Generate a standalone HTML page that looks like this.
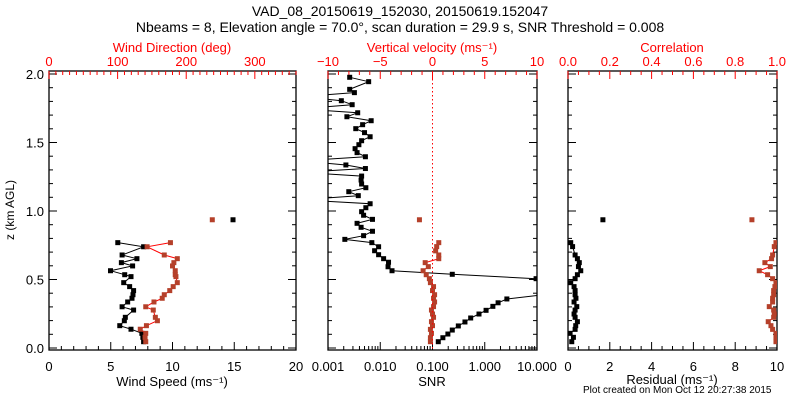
<!DOCTYPE html>
<html><head><meta charset="utf-8"><style>
body{margin:0;background:#fff;}
svg{display:block;font-family:"Liberation Sans",sans-serif;}
</style></head><body>
<svg id="chart" width="800" height="400" viewBox="0 0 800 400">
<text x="400" y="16" text-anchor="middle" font-size="14">VAD_08_20150619_152030, 20150619.152047</text>
<text x="400" y="32" text-anchor="middle" font-size="14">Nbeams = 8, Elevation angle = 70.0°, scan duration = 29.9 s, SNR Threshold = 0.008</text>
<text x="5" y="393" font-size="10" text-anchor="start" fill="#000" transform="translate(578,0)">Plot created on Mon Oct 12 20:27:38 2015</text>
</svg>
<script>
// ---- data ----
var windZ = [0.769,0.739,0.679,0.652,0.623,0.599,0.564,0.535,0.521,0.477,0.448,0.419,0.389,0.363,0.336,0.301,0.277,0.224,0.199,0.163,0.137,0.107,0.078,0.046];
var windSpeed = [5.57,7.66,5.92,7.12,5.86,6.77,4.98,6.13,6.64,6.05,6.53,6.85,6.80,6.72,6.37,5.92,6.85,6.18,6.10,5.73,6.64,7.52,7.60,7.66];
var windDir = [177,143,168,187,182,180,184,184,185,187,181,176,168,165,153,141,152,155,158,142,133,141,140,141];
var outlierZ = [0.936];
var outlierSpeed = [14.9];
var outlierDir = [238];
var outlierVel = [-1.25];
var outlierRes = [1.67];
var outlierCorr = [0.88];
var snrZ = [0.046,0.075,0.102,0.131,0.161,0.190,0.219,0.248,0.275,0.304,0.330,0.358,0.387,0.416,0.445,0.475,0.506,0.538,0.564,0.593,0.626,0.652,0.681,0.710,0.739,0.769,0.793,0.820,0.852,0.881,0.910,0.939,0.969,0.995,1.024,1.053,1.082,1.112,1.141,1.170,1.197,1.226,1.255,1.282,1.310,1.336,1.365,1.396,1.426,1.455,1.484,1.513,1.542,1.572,1.601,1.630,1.659,1.688,1.717,1.746,1.776,1.805,1.834,1.864,1.888,1.944,1.976];
var snrVal = [0.129,0.158,0.197,0.239,0.312,0.418,0.538,0.776,1.06,1.43,1.80,2.65,12,30,50,40,9.6,0.239,0.0168,0.0141,0.0144,0.0116,0.0093,0.0078,0.0093,0.0069,0.0021,0.0048,0.0071,0.0043,0.0036,0.0071,0.0048,0.0044,0.0053,0.0064,0.0003,0.0038,0.0025,0.0053,0.0044,0.0043,0.0044,0.0003,0.0052,0.0022,0.0003,0.0052,0.0036,0.0033,0.0039,0.0044,0.0064,0.0050,0.0034,0.0046,0.0067,0.0023,0.0037,0.0003,0.0029,0.0018,0.0003,0.0032,0.0026,0.0060,0.0026];
var velZ = [0.046,0.075,0.107,0.136,0.163,0.192,0.224,0.248,0.277,0.302,0.336,0.363,0.389,0.419,0.448,0.477,0.506,0.535,0.564,0.594,0.623,0.652,0.679,0.709,0.740,0.769];
var velVal = [-0.2,-0.2,-0.1,-0.2,0.0,-0.1,0.1,0.0,-0.1,0.1,0.2,0.1,0.2,0.0,0.1,-0.2,-0.3,-0.6,-0.9,-0.4,-0.7,0.6,0.6,0.3,0.4,0.6];
var resZ = [0.769,0.740,0.679,0.652,0.623,0.594,0.564,0.535,0.506,0.477,0.448,0.419,0.389,0.363,0.336,0.302,0.277,0.248,0.224,0.192,0.163,0.136,0.107,0.078,0.046];
var resVal = [0.13,0.22,0.34,0.45,0.54,0.50,0.61,0.45,0.34,0.13,0.29,0.34,0.34,0.38,0.29,0.42,0.34,0.29,0.34,0.45,0.37,0.34,0.10,0.26,0.18];
var corrVal = [0.995,0.987,0.979,0.974,0.942,0.968,0.915,0.955,0.979,0.995,0.990,0.984,0.984,0.979,0.979,0.963,0.984,0.987,0.984,0.958,0.971,0.979,0.995,0.995,0.995];

var NS = 'http://www.w3.org/2000/svg';
var svg = document.getElementById('chart');
var TOP = 71, BOT = 350;
function yZ(z){ return 348 - z * 137; }
function mk(tag, attrs, parent){ var e = document.createElementNS(NS, tag); for (var k in attrs) e.setAttribute(k, attrs[k]); (parent || svg).appendChild(e); return e; }
function txt(x, y, s, col, anchor, size){ var t = mk('text', {x:x, y:y, fill:col, 'text-anchor':anchor || 'middle', 'font-size':size || 13}); t.textContent = s; return t; }

var panels = [
 {name:'wind', x0:49, x1:296},
 {name:'snr', x0:328, x1:537},
 {name:'residual', x0:568, x1:777}
];
var clipId = 0;
function frame(p){
  var g = mk('g', {});
  
  
  var r = mk('rect', {x:p.x0, y:TOP, width:p.x1 - p.x0, height:BOT - TOP, fill:'none', stroke:'#000', 'stroke-width':1.3}, g);
  
  
  for (var i = 0; i <= 20; i++) {
    var z = i / 10, y = yZ(z), L = (i % 5 == 0) ? 8 : 4;
    mk('line', {x1:p.x0, x2:p.x0 + L, y1:y, y2:y, stroke:'#000'}, g);
    mk('line', {x1:p.x1, x2:p.x1 - L, y1:y, y2:y, stroke:'#000'}, g);
  }
  var cp = mk('clipPath', {id:'cp' + (++clipId)}, g);
  mk('rect', {x:p.x0, y:TOP, width:p.x1 - p.x0, height:BOT - TOP}, cp);
  p.clip = 'url(#cp' + clipId + ')';
  p.g = g;
}
panels.forEach(frame);
var yl = ['0.0','0.5','1.0','1.5','2.0'];
for (var i = 0; i < yl.length; i++) {
  var t = txt(44, yZ(i * 0.5) + 5, yl[i], '#000', 'end');
  
  
}
var yt = txt(0, 0, 'z (km AGL)', '#000', 'middle', 12);
yt.setAttribute('transform', 'translate(14,210) rotate(-90)');



function linAxis(p, lo, hi, major, minor, labels, top, col, fmt){
  var sx = function(v){ return p.x0 + (v - lo) / (hi - lo) * (p.x1 - p.x0); };
  var n = Math.round((hi - lo) / minor);
  for (var i = 0; i <= n; i++) {
    var v = lo + i * minor, x = sx(v);
    var isMaj = Math.abs(v / major - Math.round(v / major)) < 1e-6;
    var L = isMaj ? 8 : 4;
    mk('line', {x1:x, x2:x, y1:top ? TOP : BOT, y2:top ? TOP + L : BOT - L, stroke:col}, p.g);
  }
  labels.forEach(function(v){
    var t = txt(sx(v), top ? 66 : 371, fmt(v), col);
    
    
  });
  return sx;
}
var RED = '#f00', DOT = '#b5402a';
var xSpd = linAxis(panels[0], 0, 20, 5, 1, [0,5,10,15,20], false, '#000', function(v){return v;});
var xDir = linAxis(panels[0], 0, 360, 100, 10, [0,100,200,300], true, RED, function(v){return v;});
var xVel = linAxis(panels[1], -10, 10, 5, 1, [-10,-5,0,5,10], true, RED, function(v){return v < 0 ? '\u2212' + (-v) : v;});
var xRes = linAxis(panels[2], 0, 10, 2, 0.5, [0,2,4,6,8,10], false, '#000', function(v){return v;});
var xCor = linAxis(panels[2], 0, 1, 0.2, 0.05, [0,0.2,0.4,0.6,0.8,1.0], true, RED, function(v){return v.toFixed(1);});
var P2 = panels[1];
function xSnr(v){ return P2.x0 + (Math.log10(v) + 3) / 4 * (P2.x1 - P2.x0); }
for (var d = -3; d < 1; d++) for (var m = 1; m <= 9; m++) {
  var x = xSnr(m * Math.pow(10, d)), L = m == 1 ? 8 : 4;
  mk('line', {x1:x, x2:x, y1:BOT, y2:BOT - L, stroke:'#000'}, P2.g);
}
mk('line', {x1:P2.x1, x2:P2.x1, y1:BOT, y2:BOT - 8, stroke:'#000'}, P2.g);
['0.001','0.010','0.100','1.000','10.000'].forEach(function(s){
  var t = txt(xSnr(parseFloat(s)), 371, s, '#000');
  
  
});
function title(x, y, s, col, name){ var t = txt(x, y, s, col);   }
title(172, 52, 'Wind Direction (deg)', RED, 'top-axis-title-direction');
title(432, 52, 'Vertical velocity (ms\u207B\u00B9)', RED, 'top-axis-title-velocity');
title(672, 52, 'Correlation', RED, 'top-axis-title-correlation');
title(172, 386, 'Wind Speed (ms\u207B\u00B9)', '#000', 'x-axis-title-speed');
title(432, 386, 'SNR', '#000', 'x-axis-title-snr');
title(672, 384, 'Residual (ms\u207B\u00B9)', '#000', 'x-axis-title-residual');
var zl = mk('line', {x1:xVel(0), x2:xVel(0), y1:TOP, y2:BOT, stroke:RED, 'stroke-dasharray':'1.5,2.5'});



function series(p, xs, zs, xf, lineCol, dotCol, name){
  var g = mk('g', {'clip-path':p.clip}, p.g);
  
  
  var pts = xs.map(function(v, i){ return xf(v).toFixed(1) + ',' + yZ(zs[i]).toFixed(1); }).join(' ');
  if (lineCol) mk('polyline', {points:pts, fill:'none', stroke:lineCol, 'stroke-width':1}, g);
  xs.forEach(function(v, i){
    var c = mk('rect', {x:xf(v) - 2.5, y:yZ(zs[i]) - 2.5, width:5, height:5, fill:dotCol}, g);
    
    
  });
}
series(panels[0], windSpeed, windZ, xSpd, '#000', '#000', 'wind-speed-series');
series(panels[0], windDir, windZ, xDir, RED, DOT, 'wind-direction-series');
series(panels[0], outlierSpeed, outlierZ, xSpd, null, '#000', 'wind-speed-outlier');
series(panels[0], outlierDir, outlierZ, xDir, null, DOT, 'wind-direction-outlier');
series(panels[1], snrVal, snrZ, xSnr, '#000', '#000', 'snr-series');
series(panels[1], velVal, velZ, xVel, RED, DOT, 'vertical-velocity-series');
series(panels[1], outlierVel, outlierZ, xVel, null, DOT, 'vertical-velocity-outlier');
series(panels[2], resVal, resZ, xRes, '#000', '#000', 'residual-series');
series(panels[2], corrVal, resZ, xCor, RED, DOT, 'correlation-series');
series(panels[2], outlierRes, outlierZ, xRes, null, '#000', 'residual-outlier');
series(panels[2], outlierCorr, outlierZ, xCor, null, DOT, 'correlation-outlier');
</script>
</body></html>
